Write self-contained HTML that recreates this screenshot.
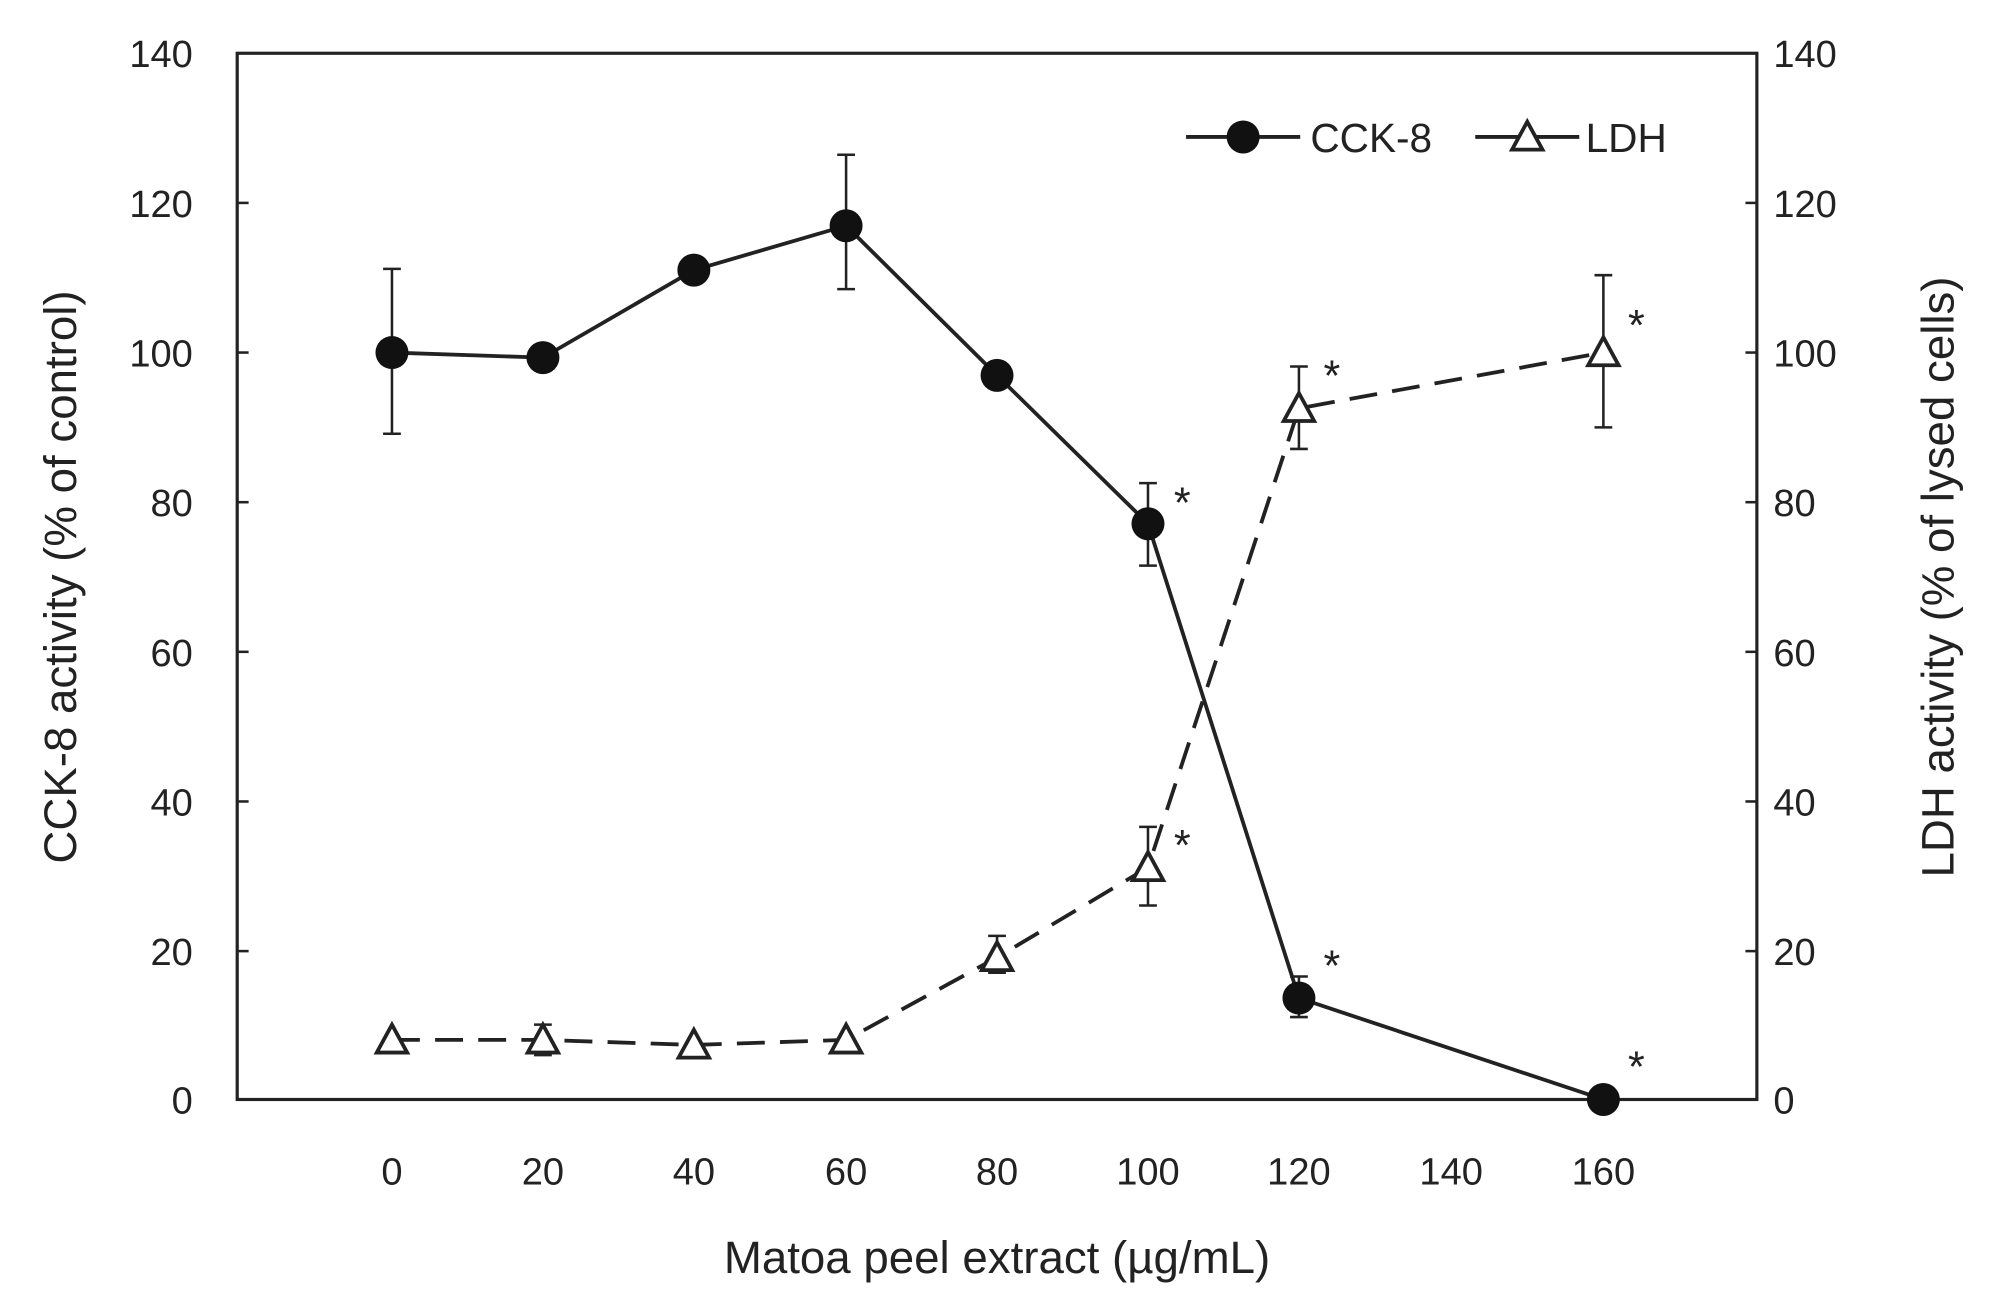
<!DOCTYPE html>
<html><head><style>html,body{margin:0;padding:0;background:#fff;}svg{display:block}</style></head>
<body>
<svg width="1989" height="1310" viewBox="0 0 1568 1033" preserveAspectRatio="none" xmlns="http://www.w3.org/2000/svg" font-family="Liberation Sans, sans-serif" fill="#222">
<rect x="187" y="42" width="1198" height="825" fill="none" stroke="#222" stroke-width="2.5"/>
<g stroke="#222" stroke-width="2">
<line x1="187" y1="160" x2="196" y2="160"/><line x1="187" y1="278" x2="196" y2="278"/><line x1="187" y1="396" x2="196" y2="396"/><line x1="187" y1="514" x2="196" y2="514"/><line x1="187" y1="632" x2="196" y2="632"/><line x1="187" y1="750" x2="196" y2="750"/>
<line x1="1376" y1="160" x2="1385" y2="160"/><line x1="1376" y1="278" x2="1385" y2="278"/><line x1="1376" y1="396" x2="1385" y2="396"/><line x1="1376" y1="514" x2="1385" y2="514"/><line x1="1376" y1="632" x2="1385" y2="632"/><line x1="1376" y1="750" x2="1385" y2="750"/>
</g>
<g font-size="30" text-anchor="end">
<text x="152" y="53">140</text><text x="152" y="171">120</text><text x="152" y="289">100</text><text x="152" y="407">80</text><text x="152" y="525">60</text><text x="152" y="643">40</text><text x="152" y="761">20</text><text x="152" y="878">0</text>
</g>
<g font-size="30" text-anchor="start">
<text x="1398" y="53">140</text><text x="1398" y="171">120</text><text x="1398" y="289">100</text><text x="1398" y="407">80</text><text x="1398" y="525">60</text><text x="1398" y="643">40</text><text x="1398" y="761">20</text><text x="1398" y="878">0</text>
</g>
<g font-size="30" text-anchor="middle">
<text x="309" y="934">0</text><text x="428" y="934">20</text><text x="547" y="934">40</text><text x="667" y="934">60</text><text x="786" y="934">80</text><text x="905" y="934">100</text><text x="1024" y="934">120</text><text x="1144" y="934">140</text><text x="1264" y="934">160</text>
</g>
<text x="786" y="1004" font-size="36" text-anchor="middle">Matoa peel extract (µg/mL)</text>
<text transform="translate(60,455) rotate(-90)" font-size="36" text-anchor="middle">CCK-8 activity (% of control)</text>
<text transform="translate(1540,455) rotate(-90)" font-size="36" text-anchor="middle">LDH activity (% of lysed cells)</text>
<g stroke="#222" stroke-width="2" fill="none">
<path d="M309 342V212M302 342h14M302 212h14"/>
<path d="M667 228V122M660 228h14M660 122h14"/>
<path d="M905 446V381M898 446h14M898 381h14"/>
<path d="M1024 802V770M1017 802h14M1017 770h14"/>
<path d="M428 832V808M421 832h14M421 808h14"/>
<path d="M786 767V738M779 767h14M779 738h14"/>
<path d="M905 714V652M898 714h14M898 652h14"/>
<path d="M1024 354V289M1017 354h14M1017 289h14"/>
<path d="M1264 337V217M1257 337h14M1257 217h14"/>
</g>
<polyline points="309,820 428,820 547,824 667,820 786,755 905,684 1024,322 1264,278" fill="none" stroke="#222" stroke-width="3" stroke-dasharray="22,12"/>
<polyline points="309,278 428,282 547,213 667,178 786,296 905,413 1024,787 1264,867" fill="none" stroke="#222" stroke-width="3"/>
<g fill="#111">
<circle cx="309" cy="278" r="13"/><circle cx="428" cy="282" r="13"/><circle cx="547" cy="213" r="13"/><circle cx="667" cy="178" r="13"/><circle cx="786" cy="296" r="13"/><circle cx="905" cy="413" r="13"/><circle cx="1024" cy="787" r="13"/><circle cx="1264" cy="867" r="13"/>
</g>
<g fill="#fff" stroke="#222" stroke-width="3">
<path d="M309 808l12 22h-24z"/><path d="M428 808l12 22h-24z"/><path d="M547 812l12 22h-24z"/><path d="M667 808l12 22h-24z"/><path d="M786 743l12 22h-24z"/><path d="M905 672l12 22h-24z"/><path d="M1024 310l12 22h-24z"/><path d="M1264 266l12 22h-24z"/>
</g>
<g font-size="34" text-anchor="middle">
<text x="932" y="408">*</text><text x="932" y="678">*</text><text x="1050" y="308">*</text><text x="1050" y="773">*</text><text x="1290" y="268">*</text><text x="1290" y="853">*</text>
</g>
<line x1="935" y1="108" x2="1025" y2="108" stroke="#222" stroke-width="3"/>
<circle cx="980" cy="108" r="13" fill="#111"/>
<text x="1033" y="120" font-size="32">CCK-8</text>
<line x1="1163" y1="108" x2="1245" y2="108" stroke="#222" stroke-width="3"/>
<path d="M1204 96l12 22h-24z" fill="#fff" stroke="#222" stroke-width="3"/>
<text x="1250" y="120" font-size="32">LDH</text>
</svg>
</body></html>
